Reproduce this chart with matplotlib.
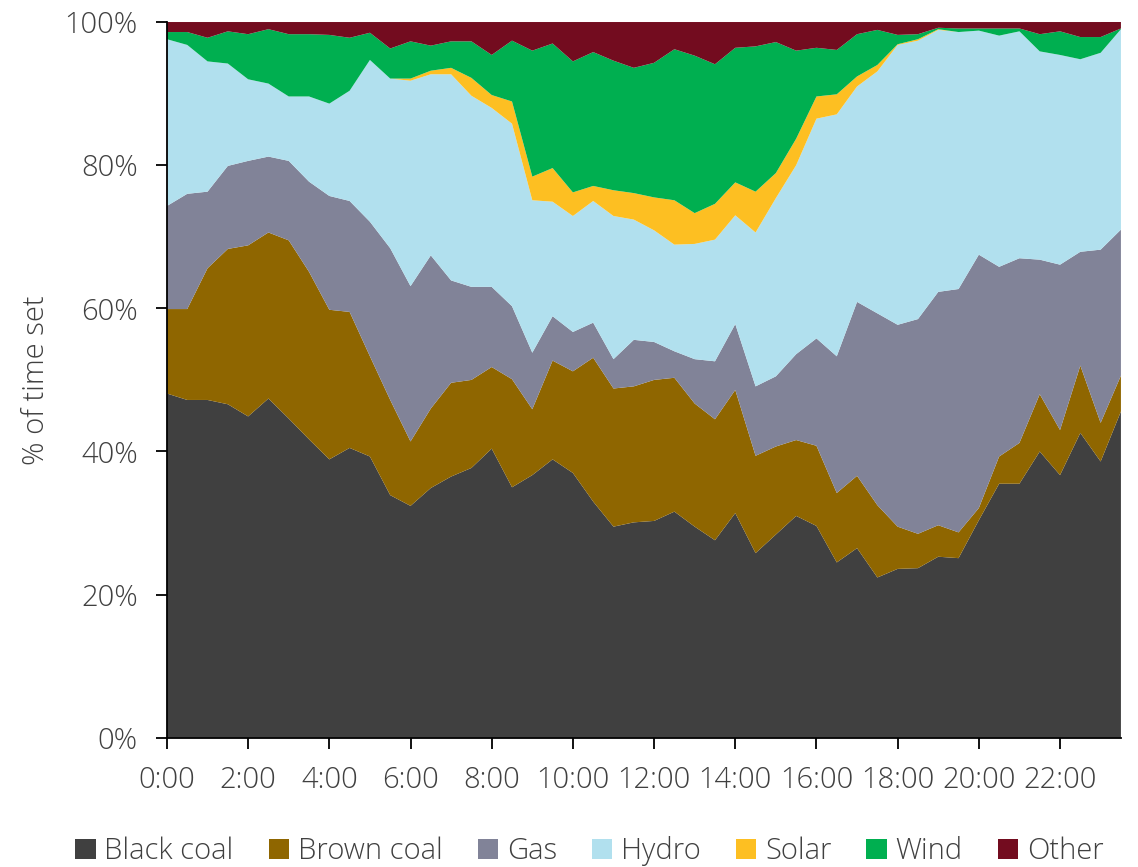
import numpy as np
import matplotlib
matplotlib.use("Agg")
import matplotlib.pyplot as plt
import matplotlib.ticker as mtick

plt.rcParams['font.family'] = ['Open Sans', 'DejaVu Sans']
plt.rcParams['font.weight'] = 'light'
plt.rcParams['axes.labelweight'] = 'light'
plt.rcParams['text.color'] = '#404040'
plt.rcParams['axes.labelcolor'] = '#404040'
plt.rcParams['xtick.color'] = '#000000'
plt.rcParams['ytick.color'] = '#000000'
plt.rcParams['xtick.labelcolor'] = '#404040'
plt.rcParams['ytick.labelcolor'] = '#404040'

# half-hourly trading intervals
times = [f"{h}:{m:02d}" for h in range(24) for m in (0, 30)]

# share of time each fuel sets the price (%)
black_coal = [48.1, 47.2, 47.2, 46.6, 44.9, 47.4, 44.6, 41.7, 38.9, 40.5, 39.3, 33.9,
              32.4, 34.9, 36.5, 37.7, 40.4, 35.0, 36.7, 38.9, 37.0, 33.0, 29.5, 30.1,
              30.3, 31.6, 29.5, 27.6, 31.4, 25.8, 28.4, 31.0, 29.6, 24.5, 26.5, 22.4,
              23.6, 23.7, 25.3, 25.1, 30.4, 35.5, 35.5, 40.0, 36.7, 42.6, 38.6, 45.6]
brown_coal = [11.8, 12.7, 18.4, 21.7, 23.9, 23.2, 24.9, 23.4, 20.9, 19.0, 14.0, 13.3,
              9.0, 11.1, 13.1, 12.3, 11.4, 15.1, 9.2, 13.8, 14.2, 20.1, 19.3, 19.0,
              19.7, 18.7, 17.2, 16.9, 17.2, 13.6, 12.3, 10.6, 11.2, 9.7, 10.1, 10.1,
              5.9, 4.8, 4.4, 3.6, 1.7, 3.8, 5.7, 8.0, 6.3, 9.4, 5.4, 5.0]
gas = [14.4, 16.1, 10.7, 11.6, 11.8, 10.6, 11.1, 12.6, 15.9, 15.5, 18.8, 21.2,
       21.7, 21.4, 14.3, 13.0, 11.2, 10.2, 7.9, 6.2, 5.5, 4.9, 4.1, 6.5,
       5.3, 3.7, 6.2, 8.1, 9.2, 9.7, 9.8, 12.0, 15.0, 19.1, 24.3, 26.8,
       28.2, 30.0, 32.6, 34.0, 35.4, 26.5, 25.8, 18.8, 23.1, 15.9, 24.2, 20.4]
hydro = [23.3, 20.8, 18.2, 14.3, 11.4, 10.2, 9.0, 11.9, 12.9, 15.4, 22.6, 23.7,
         28.7, 25.3, 28.8, 26.7, 25.0, 25.5, 21.3, 16.0, 16.2, 17.0, 20.0, 16.8,
         15.6, 14.9, 16.1, 17.0, 15.2, 21.5, 24.9, 26.4, 30.7, 33.8, 30.1, 33.8,
         39.1, 38.9, 36.6, 35.9, 31.3, 32.3, 31.7, 29.1, 29.3, 26.9, 27.5, 28.0]
solar = [0, 0, 0, 0, 0, 0, 0, 0, 0, 0, 0, 0,
         0.3, 0.5, 0.9, 2.5, 1.8, 3.1, 3.3, 4.7, 3.3, 2.1, 3.6, 3.7,
         4.6, 6.2, 4.3, 5.0, 4.6, 5.7, 3.5, 3.7, 3.1, 2.8, 1.4, 0.9,
         0.1, 0.2, 0.1, 0, 0, 0, 0, 0, 0, 0, 0, 0]
wind = [1.0, 1.8, 3.3, 4.5, 6.3, 7.6, 8.7, 8.7, 9.6, 7.4, 3.8, 4.2,
        5.2, 3.5, 3.7, 5.1, 5.6, 8.5, 17.6, 17.4, 18.3, 18.7, 18.1, 17.5,
        18.8, 21.1, 22.0, 19.5, 18.8, 20.3, 18.3, 12.3, 6.8, 6.2, 5.9, 4.9,
        1.3, 0.7, 0.2, 0.5, 0.3, 1.0, 0.4, 2.4, 3.3, 3.1, 2.2, 0.1]
other = [1.4, 1.4, 2.2, 1.3, 1.7, 1.0, 1.7, 1.7, 1.8, 2.2, 1.5, 3.7,
         2.7, 3.3, 2.7, 2.7, 4.6, 2.6, 4.0, 3.0, 5.5, 4.2, 5.4, 6.4,
         5.7, 3.8, 4.7, 5.9, 3.6, 3.4, 2.8, 4.0, 3.6, 3.9, 1.7, 1.1,
         1.8, 1.7, 0.8, 0.9, 0.9, 0.9, 0.9, 1.7, 1.3, 2.1, 2.1, 1.0]

labels = ["Black coal", "Brown coal", "Gas", "Hydro", "Solar", "Wind", "Other"]
colors = ["#404040", "#8F6600", "#818398", "#B1E0EE", "#FDBF22", "#00AF50", "#730C1F"]

fig = plt.figure(figsize=(11.38, 8.67), dpi=100)
ax = fig.add_axes([0.1467, 0.149, 0.8383, 0.8256])

x = np.arange(len(times))
series = [black_coal, brown_coal, gas, hydro, solar, wind, other]
ax.stackplot(x, *[np.array(s) / 100 for s in series], colors=colors, labels=labels,
             linewidth=0)

ax.set_xlim(0, len(times) - 1)
ax.set_ylim(0, 1)
ax.set_xticks(x[::4])
ax.set_xticklabels(times[::4])
ax.yaxis.set_major_locator(mtick.MultipleLocator(0.2))
ax.yaxis.set_major_formatter(mtick.PercentFormatter(1.0, decimals=0))

for side in ["top", "right"]:
    ax.spines[side].set_visible(False)
for side in ["left", "bottom"]:
    ax.spines[side].set_linewidth(1.3)
    ax.spines[side].set_zorder(5)

ax.tick_params(axis="both", direction="out", length=8, width=1.3, labelsize=21)
ax.tick_params(axis="y", pad=13)
ax.tick_params(axis="x", pad=12)
ax.set_ylabel("% of time set", fontsize=21, labelpad=10)

fig.legend(loc="center", bbox_to_anchor=(0.518, 0.018), ncol=7, frameon=False,
           fontsize=21, handlelength=0.7, handleheight=0.7, handletextpad=0.3,
           columnspacing=1.2)

fig.savefig("out.png", dpi=100)
